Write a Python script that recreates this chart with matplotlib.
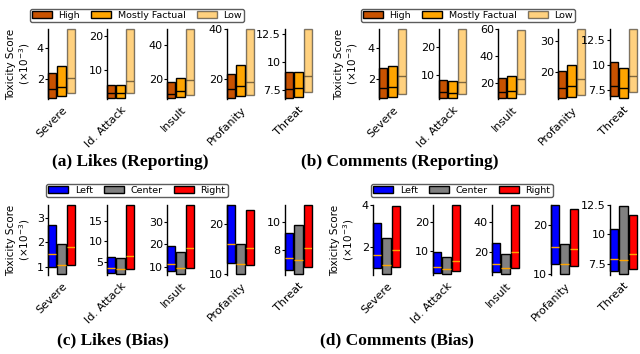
import matplotlib.pyplot as plt
import numpy as np

# categories / groups
metrics = ['Severe', 'Id. Attack', 'Insult', 'Profanity', 'Threat']
rep_groups = ['High', 'Mostly Factual', 'Low']
bias_groups = ['Left', 'Center', 'Right']

# each entry: [low, median, high] per group, in units of 1e-3
likes_rep = {
    'Severe':     [[0.82, 1.37, 2.38], [0.92, 1.50, 2.84], [1.10, 2.08, 5.20]],
    'Id. Attack': [[1.93, 3.18, 5.68], [1.93, 3.20, 5.68], [3.20, 6.70, 21.9]],
    'Insult':     [[9.0, 11.4, 18.0], [9.6, 13.0, 20.8], [10.8, 19.2, 49.8]],
    'Profanity':  [[12.6, 16.05, 22.1], [13.3, 17.1, 25.8], [13.7, 18.9, 40.0]],
    'Threat':     [[6.80, 7.62, 9.07], [6.86, 7.68, 9.12], [7.27, 8.73, 12.97]],
}
comments_rep = {
    'Severe':     [[0.82, 1.41, 2.68], [0.86, 1.50, 2.87], [1.07, 2.17, 5.20]],
    'Id. Attack': [[1.53, 3.5, 8.05], [1.53, 3.2, 7.46], [3.0, 7.2, 26.7]],
    'Insult':     [[8.8, 12.7, 23.6], [8.8, 13.7, 24.6], [11.7, 22.7, 59.0]],
    'Profanity':  [[11.6, 14.65, 20.45], [11.9, 15.5, 22.4], [12.6, 17.8, 34.0]],
    'Threat':     [[6.84, 7.83, 10.27], [6.71, 7.63, 9.63], [7.24, 8.82, 13.56]],
}
likes_bias = {
    'Severe':     [[0.98, 1.52, 2.68], [0.72, 1.09, 1.92], [1.06, 1.80, 3.51]],
    'Id. Attack': [[2.24, 3.55, 6.1], [2.1, 3.3, 5.95], [3.2, 6.3, 18.9]],
    'Insult':     [[8.3, 11.5, 19.4], [7.1, 9.7, 16.8], [9.7, 18.3, 37.3]],
    'Profanity':  [[12.1, 15.9, 23.9], [10.0, 11.9, 16.0], [11.7, 15.2, 22.8]],
    'Threat':     [[6.6, 7.42, 9.2], [6.35, 7.28, 9.81], [6.83, 8.16, 11.2]],
}
comments_bias = {
    'Severe':     [[1.02, 1.63, 3.13], [0.77, 1.17, 2.43], [1.08, 1.86, 3.97]],
    'Id. Attack': [[2.25, 4.3, 9.4], [2.05, 3.6, 7.7], [2.9, 6.3, 25.7]],
    'Insult':     [[7.0, 12.2, 25.9], [5.7, 9.6, 18.4], [9.6, 20.2, 50.9]],
    'Profanity':  [[11.9, 15.5, 24.05], [10.0, 11.9, 16.1], [11.5, 15.0, 23.2]],
    'Threat':     [[6.9, 7.93, 10.5], [6.68, 7.82, 12.44], [7.06, 8.32, 11.68]],
}

# y tick values per panel
ticks_likes_rep = [[2, 4], [10, 20], [20, 40], [20, 40], [7.5, 10, 12.5]]
ticks_comments_rep = [[2, 4], [10, 20], [20, 40, 60], [20, 30], [7.5, 10, 12.5]]
ticks_likes_bias = [[1, 2, 3], [5, 10, 15], [10, 20, 30], [10, 20], [8, 10]]
ticks_comments_bias = [[2, 4], [10, 20], [20, 40], [10, 20], [7.5, 10, 12.5]]

W, H = 640, 354
fig = plt.figure(figsize=(6.4, 3.54), dpi=100)


def px_axes(x, y_top, w, h):
    return fig.add_axes([x / W, 1 - (y_top + h) / H, w / W, h / H])


def draw_panel(data, ticks, xs, y_top, colors, alphas, med_color, groups,
               ylab_x, legend_x, legend_y, caption, cap_x, cap_y):
    for i, m in enumerate(metrics):
        ax = px_axes(xs[i], y_top, 27, 70)
        vals = np.array(data[m])
        pos = np.arange(3)
        for j in range(3):
            lo, med, hi = vals[j]
            ax.bar(pos[j], hi - lo, bottom=lo, width=0.9, color=colors[j],
                   edgecolor='black', linewidth=1, alpha=alphas[j],
                   clip_on=False, label=groups[j])
            ax.hlines(med, pos[j] - 0.45, pos[j] + 0.45, color=med_color,
                      linewidth=1, alpha=alphas[j], zorder=3)
        lo_all = min(vals[:, 0].min(), min(ticks[i]))
        hi_all = max(vals[:, 2].max(), max(ticks[i]))
        ax.set_ylim(lo_all - 0.02 * (hi_all - lo_all), hi_all)
        ax.set_xlim(-0.45, 2.45)
        ax.set_yticks(ticks[i])
        ax.set_yticklabels([('%g' % t) for t in ticks[i]])
        ax.set_xticks([1])
        ax.set_xticklabels([m], rotation=45, ha='right', rotation_mode='anchor')
        ax.tick_params(axis='x', length=0, labelsize=8, pad=4)
        ax.tick_params(axis='y', length=2, labelsize=8, pad=1)
        for s in ['top', 'right', 'bottom']:
            ax.spines[s].set_visible(False)
        ax.spines['left'].set_linewidth(1)
        ax.set_facecolor('none')
        if i == 0:
            handles, labels = ax.get_legend_handles_labels()
            fig.legend(handles, labels, loc='center', ncol=3, fontsize=6.8,
                       bbox_to_anchor=(legend_x / W, 1 - legend_y / H),
                       handlelength=2.1, handleheight=0.7, columnspacing=1.2,
                       borderpad=0.25, handletextpad=0.7, frameon=True,
                       edgecolor='#333333', fancybox=True)
    fig.text(ylab_x / W, 1 - (y_top + 35) / H,
             'Toxicity Score\n($\\times10^{-3}$)', rotation=90,
             ha='center', va='center', fontsize=7.5, linespacing=1.1)
    fig.text(cap_x / W, 1 - cap_y / H, caption, ha='center', va='center',
             fontsize=12.5, fontweight='bold', family='Liberation Serif')


rep_colors = ['#c85200', '#ffa500', '#ffa500']
rep_alpha = [1, 1, 0.5]
bias_colors = ['#0000ff', '#808080', '#ff0000']
bias_alpha = [1, 1, 1]

draw_panel(likes_rep, ticks_likes_rep, [48, 107, 167, 227, 285], 29,
           rep_colors, rep_alpha, 'black', rep_groups,
           19, 137, 15.5, '(a) Likes (Reporting)', 130, 162)
draw_panel(comments_rep, ticks_comments_rep, [379, 439, 498, 558, 610], 29,
           rep_colors, rep_alpha, 'black', rep_groups,
           347, 468, 15.5, '(b) Comments (Reporting)', 400, 162)
draw_panel(likes_bias, ticks_likes_bias, [48, 107, 167, 227, 285], 205,
           bias_colors, bias_alpha, '#ffa500', bias_groups,
           19, 137, 190.5, '(c) Likes (Bias)', 113, 340)
draw_panel(comments_bias, ticks_comments_bias, [373, 433, 492, 551, 610], 205,
           bias_colors, bias_alpha, '#ffa500', bias_groups,
           343, 462, 190.5, '(d) Comments (Bias)', 397, 340)

plt.savefig('out.png', dpi=100)
plt.close()
